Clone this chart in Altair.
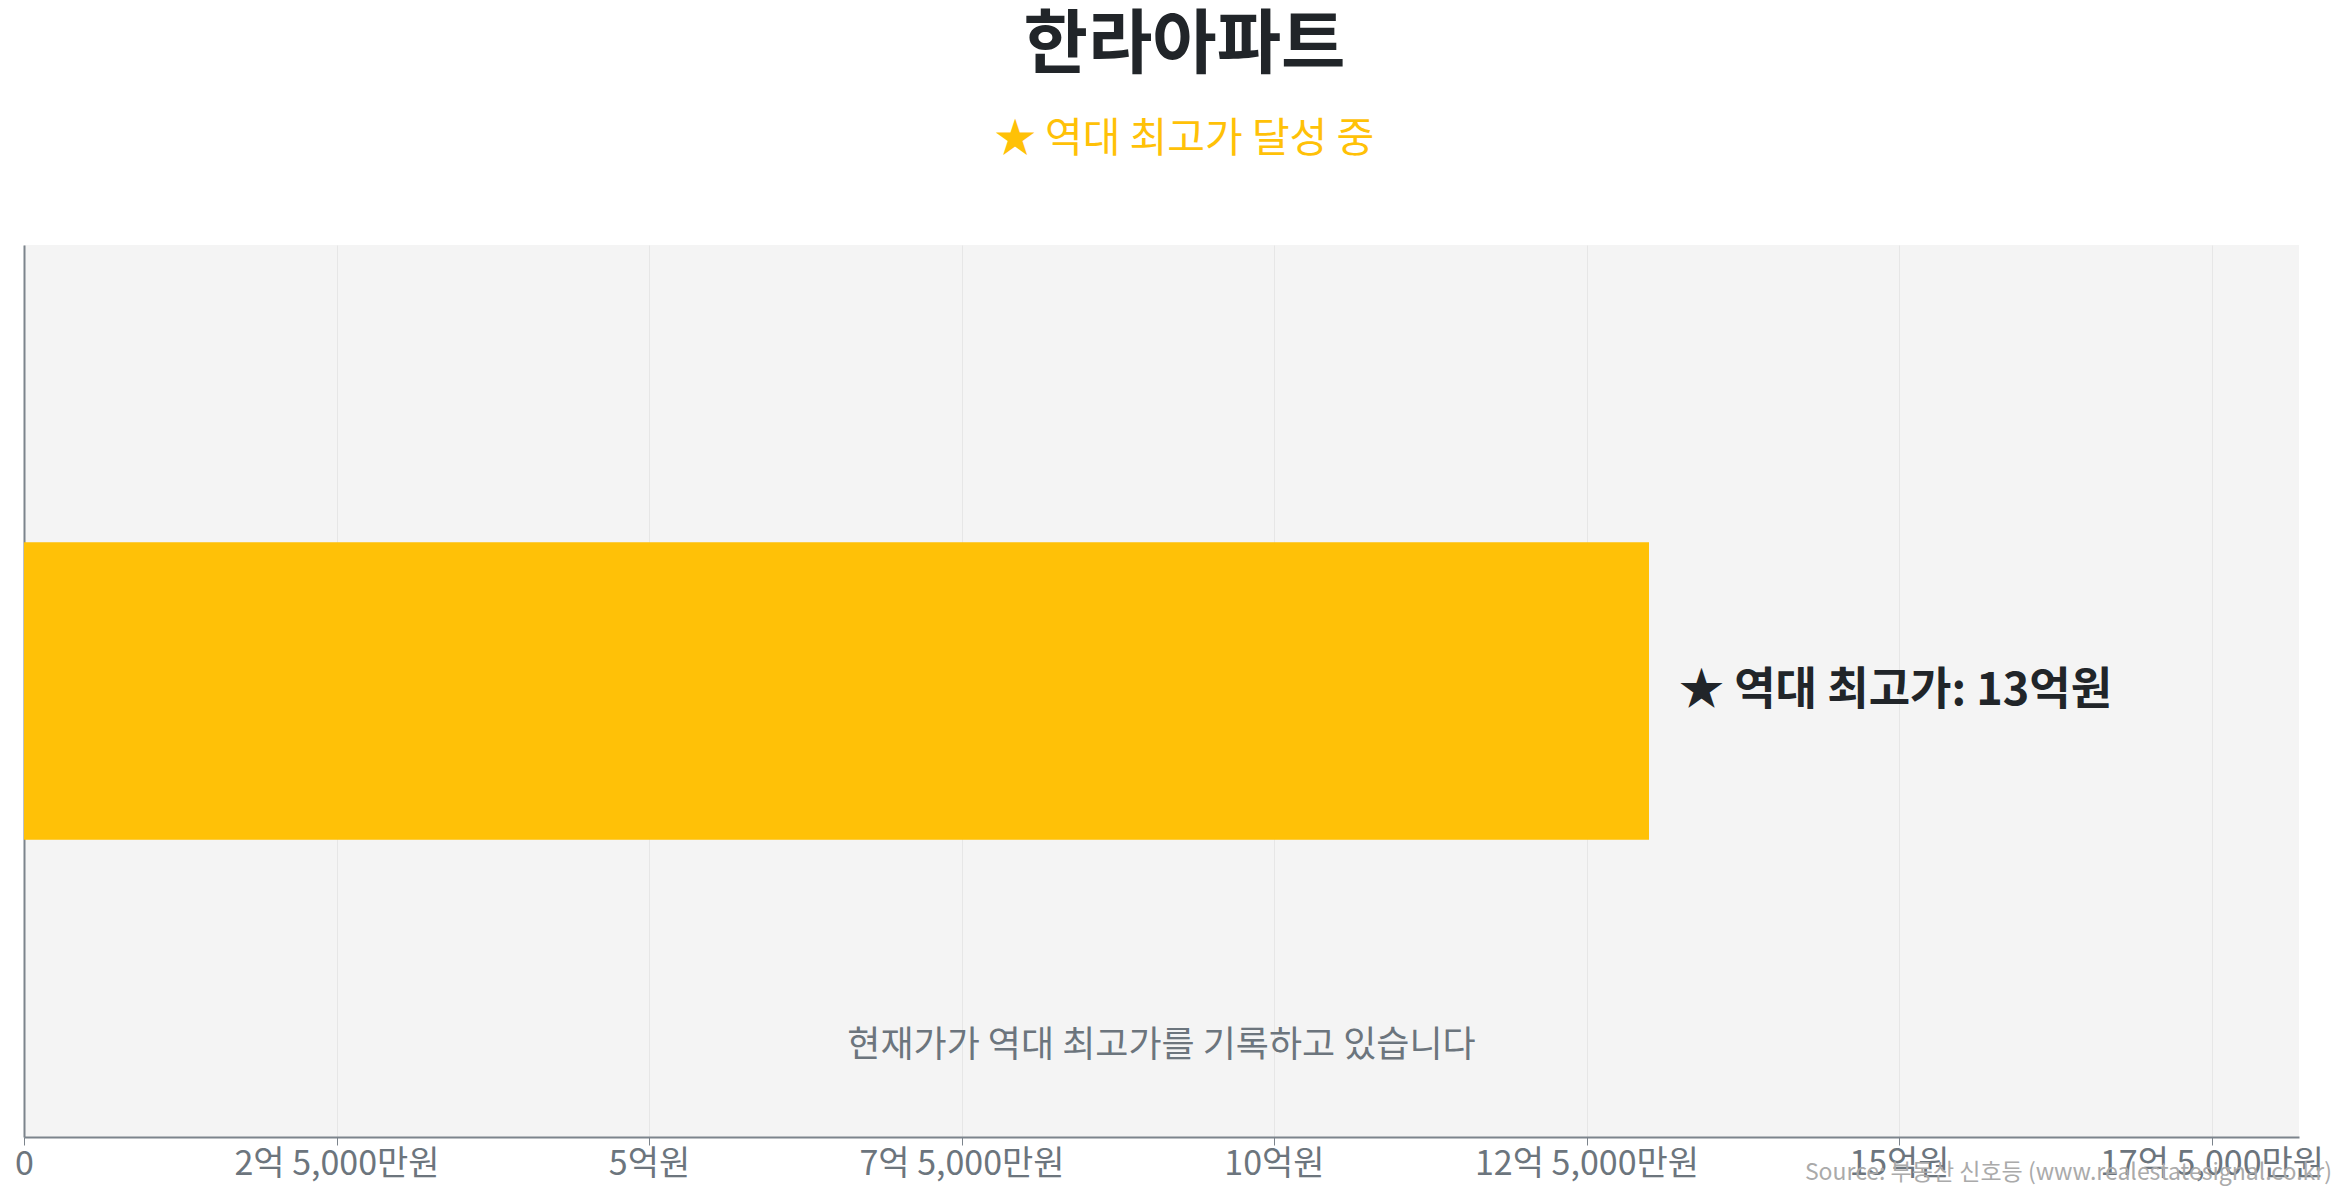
import altair as alt
import pandas as pd

FONT = "Noto Sans CJK KR"

# ---- data ----
apartments = ["한라아파트"]
current_price = [1300000000]          # 원
peak_price = [1300000000]             # 원
bar_labels = ["★ 역대 최고가: 13억원"]
status_notes = ["현재가가 역대 최고가를 기록하고 있습니다"]
tick_values = [0, 250000000, 500000000, 750000000, 1000000000,
               1250000000, 1500000000, 1750000000]
x_max = 1820000000
source_text = ["Source: 부동산 신호등 (www.realestatesignal.co.kr)"]

df = pd.DataFrame({
    "apt": apartments,
    "price": current_price,
    "peak": peak_price,
    "label": bar_labels,
    "note": status_notes,
    "mid": [x_max / 2],
})
src = pd.DataFrame({"src": source_text})

label_expr = (
    "datum.value == 0 ? '0' : "
    "(floor(datum.value / 100000000) + '억' + "
    "((datum.value % 100000000) > 0 ? ' ' + format((datum.value % 100000000) / 10000, ',') + '만원' : '원'))"
)

x_scale = alt.Scale(domain=[0, x_max], nice=False, zero=True)
y_scale = alt.Scale(paddingInner=0.5, paddingOuter=0.5)

base = alt.Chart(df)

bars = base.mark_bar(color="#FFC107").encode(
    x=alt.X("price:Q", scale=x_scale, title=None,
            axis=alt.Axis(values=tick_values, labelExpr=label_expr,
                          labelFontSize=34, labelColor="#6c757d", labelFont=FONT,
                          labelPadding=2, tickSize=8, tickColor="#7c848c",
                          domainColor="#7c848c", domainWidth=2,
                          grid=True, gridColor="#e6e6e6", gridWidth=1,
                          labelOverlap=False, labelFlush=False, labelLimit=0)),
    y=alt.Y("apt:N", scale=y_scale, title=None,
            axis=alt.Axis(labels=False, ticks=False, grid=False,
                          domainColor="#7c848c", domainWidth=2)),
)

labels = base.mark_text(align="left", baseline="middle", dx=30,
                        fontSize=45, fontWeight="bold", color="#212529",
                        font=FONT).encode(
    x=alt.X("peak:Q", scale=x_scale),
    y=alt.Y("apt:N", scale=y_scale),
    text="label:N",
)

note = base.mark_text(align="center", baseline="middle", dy=355,
                      fontSize=36, color="#6c757d", font=FONT).encode(
    x=alt.X("mid:Q", scale=x_scale),
    y=alt.Y("apt:N", scale=y_scale),
    text="note:N",
)

source = alt.Chart(src).mark_text(align="right", baseline="middle",
                                  fontSize=23, color="#aaaaaa", font=FONT).encode(
    x=alt.value(2308),
    y=alt.value(928),
    text="src:N",
)

chart = alt.layer(bars, labels, note, source).properties(
    width=2275,
    height=892,
    background="white",
    autosize=alt.AutoSizeParams(type="none"),
    padding={"left": 16, "top": 237, "right": 38, "bottom": 55},
    title=alt.TitleParams(
        text="한라아파트",
        subtitle="★ 역대 최고가 달성 중",
        font=FONT, fontSize=70, fontWeight="bold", color="#212529",
        subtitleFont=FONT, subtitleFontSize=41, subtitleColor="#FFC107",
        subtitleFontWeight="normal", subtitlePadding=37,
        anchor="middle", offset=84, dx=23,
    ),
).configure_view(fill="#f4f4f4", strokeWidth=0)

chart.save("out.html", embed_options={"renderer": "svg", "actions": False})
